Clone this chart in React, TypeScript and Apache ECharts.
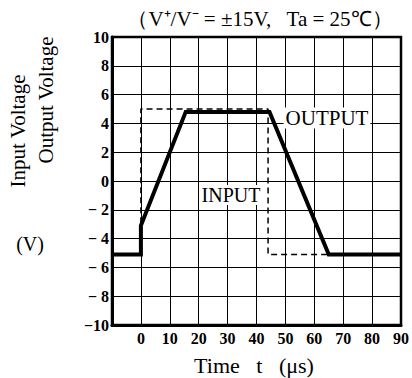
import React, { useEffect, useRef } from "react";
import * as echarts from "echarts";

const xMin = -10;
const xMax = 90;
const yMin = -10;
const yMax = 10;
const outputData: [number, number][] = [
  [-10, -5.1], [0, -5.1], [0, -3.1], [15.5, 4.8], [44.5, 4.8], [65, -5.1], [90, -5.1],
];
const inputData: [number, number][] = [
  [-10, -5.1], [0, -5.1], [0, 5], [44, 5], [44, -5.1], [90, -5.1],
];
const titleText = "\uFF08V\u207A/V\u207B = ±15V,   Ta = 25\u2103\uFF09";
const yName1 = "Input Voltage";
const yName2 = "Output Voltage";
const yUnit = "(V)";
const xName = "Time   t   (\u03BCs)";

const SERIF = "Liberation Serif";

export default function App() {
  const ref = useRef<HTMLDivElement>(null);
  useEffect(() => {
    if (!ref.current) return;
    const chart = echarts.init(ref.current, null, { renderer: "svg" });
    chart.setOption({
      animation: false,
      backgroundColor: "#fff",
      textStyle: { fontFamily: SERIF },
      grid: { left: 112, top: 37, width: 293, height: 288, show: true, borderColor: "#000", borderWidth: 2.5 },
      xAxis: {
        type: "value", min: xMin, max: xMax, interval: 10,
        axisLine: { show: true, onZero: false, lineStyle: { color: "#000", width: 3 } },
        axisTick: { show: false },
        splitLine: { show: true, lineStyle: { color: "#000", width: 1 } },
        axisLabel: {
          color: "#000", fontFamily: SERIF, fontWeight: "bold", fontSize: 16, margin: 5,
          formatter: (v: number) => (v === xMin ? "" : String(v)),
        },
      },
      yAxis: {
        type: "value", min: yMin, max: yMax, interval: 2,
        axisLine: { show: true, onZero: false, lineStyle: { color: "#000", width: 3 } },
        axisTick: { show: false },
        splitLine: { show: true, lineStyle: { color: "#000", width: 1 } },
        axisLabel: {
          color: "#000", fontFamily: SERIF, fontWeight: "bold", fontSize: 16, margin: 3,
          formatter: (v: number) => (v < 0 ? (v === -10 ? "\u221210" : "\u2212 " + Math.abs(v)) : String(v)),
        },
      },
      series: [
        {
          type: "line", data: inputData, symbol: "none", z: 3,
          lineStyle: { color: "#000", width: 1.5, type: [6, 4] },
        },
        {
          type: "line", data: outputData, symbol: "none", z: 4,
          lineStyle: { color: "#000", width: 4, join: "miter" },
        },
      ],
      graphic: [
        { type: "text", x: 260, y: 19, style: { text: titleText, fill: "#000", fontFamily: SERIF, fontSize: 21, align: "center", verticalAlign: "middle" } },
        { type: "text", x: 18, y: 131, rotation: Math.PI / 2, style: { text: yName1, fill: "#000", fontFamily: SERIF, fontSize: 21, align: "center", verticalAlign: "middle" } },
        { type: "text", x: 46, y: 100, rotation: Math.PI / 2, style: { text: yName2, fill: "#000", fontFamily: SERIF, fontSize: 21, align: "center", verticalAlign: "middle" } },
        { type: "text", x: 30, y: 244, style: { text: yUnit, fill: "#000", fontFamily: SERIF, fontSize: 20, align: "center", verticalAlign: "middle" } },
        { type: "text", x: 254, y: 365, style: { text: xName, fill: "#000", fontFamily: SERIF, fontSize: 22, align: "center", verticalAlign: "middle" } },
        { type: "text", x: 327, y: 118, z: 10, style: { text: "OUTPUT", fill: "#000", fontFamily: SERIF, fontSize: 21, align: "center", verticalAlign: "middle", backgroundColor: "#fff", padding: [0, 2] } },
        { type: "text", x: 231, y: 195, z: 10, style: { text: "INPUT", fill: "#000", fontFamily: SERIF, fontSize: 20, align: "center", verticalAlign: "middle", backgroundColor: "#fff", padding: [0, 2] } },
      ],
    });
    return () => chart.dispose();
  }, []);
  return <div ref={ref} style={{ position: "fixed", left: 0, top: 0, width: 412, height: 378 }} />;
}
